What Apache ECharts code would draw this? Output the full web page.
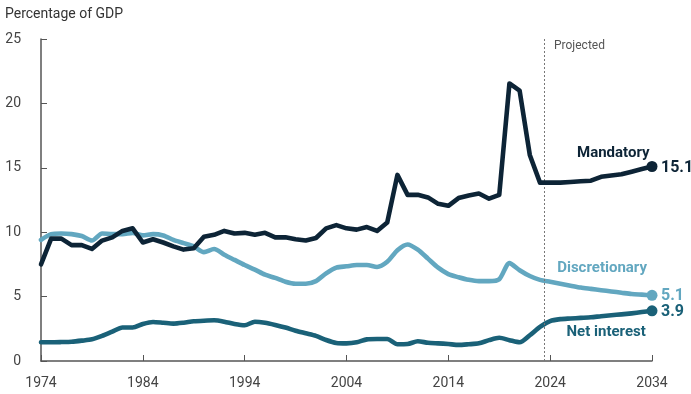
<!DOCTYPE html>
<html>
<head>
<meta charset="utf-8">
<script src="https://cdn.jsdelivr.net/npm/echarts@6/dist/echarts.min.js"></script>
<style>
html,body{margin:0;padding:0;background:#fff;}
#chart{width:691px;height:394px;}
</style>
</head>
<body>
<div id="chart"></div>
<script>
const years = [1974,1975,1976,1977,1978,1979,1980,1981,1982,1983,1984,1985,1986,1987,1988,1989,1990,1991,1992,1993,1994,1995,1996,1997,1998,1999,2000,2001,2002,2003,2004,2005,2006,2007,2008,2009,2010,2011,2012,2013,2014,2015,2016,2017,2018,2019,2020,2021,2022,2023,2024,2025,2026,2027,2028,2029,2030,2031,2032,2033,2034];

const mandatory = [7.5,9.5,9.5,9.0,9.0,8.7,9.35,9.6,10.1,10.3,9.2,9.45,9.2,8.9,8.65,8.75,9.65,9.8,10.1,9.9,9.95,9.8,9.95,9.6,9.6,9.45,9.35,9.55,10.3,10.55,10.3,10.2,10.4,10.1,10.75,14.45,12.9,12.9,12.7,12.2,12.05,12.65,12.85,13.0,12.6,12.9,21.55,21.0,16.0,13.85,13.85,13.85,13.9,13.95,14.0,14.3,14.4,14.5,14.7,14.9,15.1];

const discretionary = [9.4,9.85,9.9,9.85,9.7,9.35,9.9,9.85,9.85,9.95,9.75,9.85,9.75,9.4,9.15,8.9,8.45,8.7,8.25,7.85,7.45,7.1,6.7,6.45,6.15,6.0,6.0,6.2,6.8,7.25,7.35,7.45,7.45,7.3,7.7,8.6,9.05,8.65,7.95,7.25,6.75,6.5,6.3,6.2,6.2,6.35,7.6,7.05,6.6,6.3,6.15,6.0,5.85,5.7,5.6,5.5,5.4,5.3,5.2,5.15,5.1];

const netInterest = [1.45,1.45,1.47,1.5,1.58,1.68,1.95,2.28,2.6,2.6,2.87,3.03,2.97,2.9,2.97,3.08,3.13,3.16,3.05,2.87,2.77,3.05,2.97,2.8,2.6,2.35,2.15,1.95,1.63,1.4,1.37,1.45,1.68,1.71,1.71,1.3,1.32,1.53,1.42,1.37,1.32,1.25,1.3,1.37,1.62,1.8,1.62,1.45,2.0,2.65,3.1,3.25,3.3,3.35,3.4,3.48,3.55,3.62,3.7,3.8,3.9];

const xTicks = [1974,1984,1994,2004,2014,2024,2034];
const yTicks = [0,5,10,15,20,25];
const projectionStart = 2023.45;
const seriesNames = ['Mandatory','Discretionary','Net interest'];
const endValues = ['15.1','5.1','3.9'];

const colors = ['#0d2436','#62a7c0','#1a6178'];
const FONT = 'Roboto';

function buildData(vals){
  return vals.map((v,i)=>{
    const pt = [years[i], v];
    if (i === vals.length-1) return {value: pt, symbol:'circle', symbolSize: 11};
    return {value: pt, symbol:'none'};
  });
}

const nameLabelPos = [[2030.2,16.15],[2029.1,7.2],[2029.5,2.2]];

const series = [mandatory, discretionary, netInterest].map((vals, k) => ({
  name: seriesNames[k],
  type: 'line',
  data: buildData(vals),
  showSymbol: true,
  smooth: k === 0 ? false : 0.25,
  z: 3 - k + 2,
  lineStyle: {width: 4.6, color: colors[k], cap:'round', join:'round'},
  itemStyle: {color: colors[k]},
  endLabel: {
    show: true,
    formatter: endValues[k],
    color: colors[k],
    fontFamily: FONT,
    fontWeight: 'bold',
    fontSize: 16,
    distance: 9,
    offset: [0, 1]
  },
  markPoint: {
    symbol: 'circle', symbolSize: 0,
    silent: true,
    data: [{coord: nameLabelPos[k], value: seriesNames[k]}],
    label: {show: true, formatter: seriesNames[k], color: colors[k], fontFamily: FONT, fontWeight:'bold', fontSize: 15, position:'inside'}
  },
  markLine: k === 0 ? {
    silent: true, symbol: 'none',
    lineStyle: {type: [2,2], color: '#777', width: 1},
    label: {show: false},
    data: [{xAxis: projectionStart}]
  } : undefined,
  animation: false
}));

const chart = echarts.init(document.getElementById('chart'));
chart.setOption({
  animation: false,
  backgroundColor: '#fff',
  textStyle: {fontFamily: FONT},
  grid: {left: 41, right: 39, top: 39, bottom: 33, containLabel: false},
  graphic: [
    {type:'text', left: 5, top: 7, style:{text:'Percentage of GDP', fill:'#333', font: '14px Roboto'}},
    {type:'text', left: 554, top: 40, style:{text:'Projected', fill:'#555', font: '12px Roboto'}}
  ],
  xAxis: {
    type: 'value', min: xTicks[0], max: xTicks[xTicks.length-1], interval: 10,
    axisLine: {show: true, lineStyle: {color: '#555', width: 1.5}},
    axisTick: {show: true, inside: true, length: 6, lineStyle: {color: '#555'}},
    splitLine: {show: false},
    axisLabel: {color: '#444', fontSize: 14, fontFamily: FONT, margin: 15, formatter: v => xTicks.includes(v) ? String(v) : ''}
  },
  yAxis: {
    type: 'value', min: yTicks[0], max: yTicks[yTicks.length-1], interval: 5,
    axisLine: {show: true, lineStyle: {color: '#555', width: 1.5}},
    axisTick: {show: true, inside: true, length: 6, lineStyle: {color: '#555'}},
    splitLine: {show: false},
    axisLabel: {color: '#444', fontSize: 14, fontFamily: FONT, margin: 20, formatter: v => String(v)}
  },
  series: series
});
</script>
</body>
</html>
